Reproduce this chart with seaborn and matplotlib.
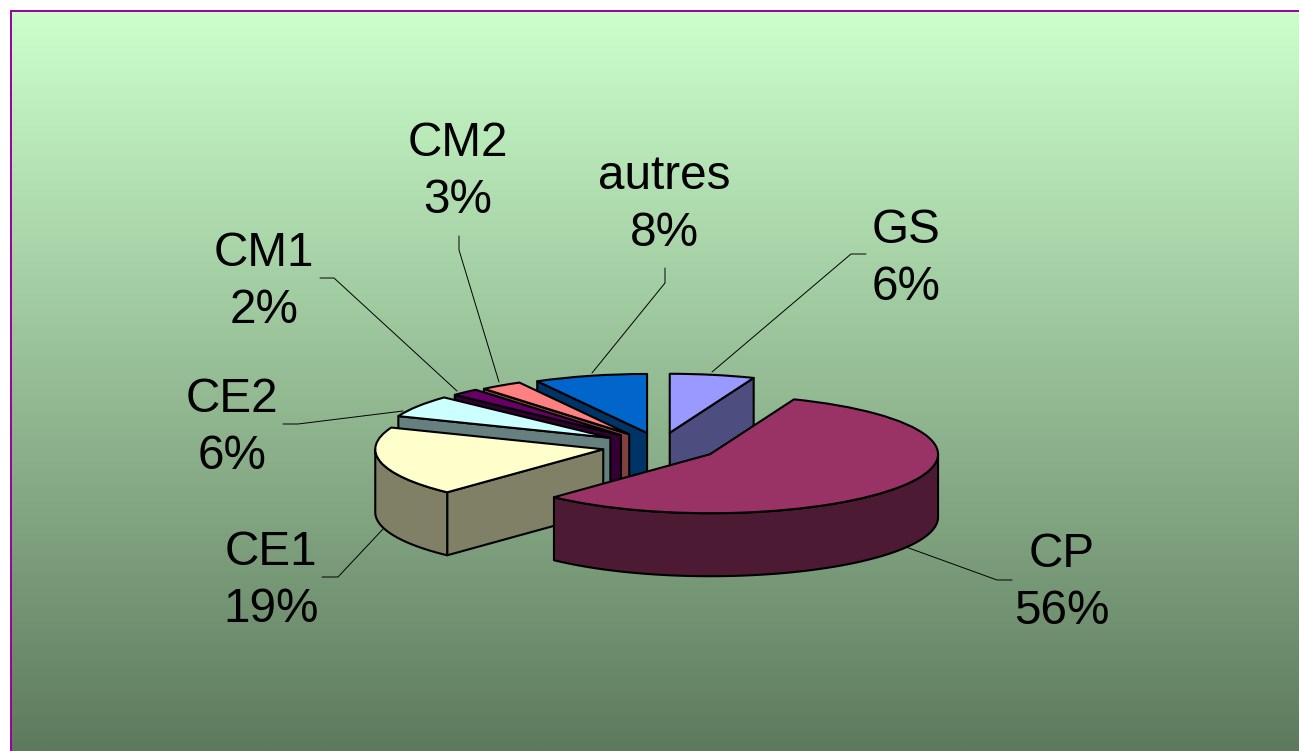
import numpy as np
import matplotlib
matplotlib.use("Agg")
import matplotlib.pyplot as plt
import seaborn as sns

# --- Data ---
CLASSES = ["GS", "CP", "CE1", "CE2", "CM1", "CM2", "autres"]
SHARES = [6, 56, 19, 6, 2, 3, 8]

# --- Style ---
TOP_COLORS = ["#9999FF", "#993366", "#FFFFCC", "#CCFFFF", "#660066", "#FF8080", "#0066CC"]
WALL_COLORS = ["#4D4D80", "#4D1A33", "#808066", "#668080", "#330033", "#804040", "#003366"]
DRAW_RANK = [5, 6, 4, 3, 2, 1, 0]  # back to front
EXPLODE = [0.228, 0.26, 0.255, 0.258, 0.25, 0.24, 0.228]
WIDTH, HEIGHT = 1299, 751
CENTER_X, CENTER_Y = 660, 446  # pixels
RADIUS_X, RADIUS_Y = 228, 59   # pixels
DEPTH = 63 / RADIUS_Y
EDGE_LW = 1.5

# label centre, then leader line, all in pixels
LABEL_POS = [(906, 259), (1062, 583), (271, 581), (232, 428), (264, 282), (458, 172), (664, 205)]
LEADERS = [
    [(712, 372), (851, 254), (866, 254)],
    [(906, 547), (997, 580), (1012, 580)],
    [(384, 528), (338, 577), (322, 577)],
    [(403, 411), (298, 424), (283, 424)],
    [(457, 391), (334, 278), (320, 278)],
    [(499, 382), (459, 250), (459, 236)],
    [(592, 373), (665, 283), (665, 268)],
]

sns.set_theme(style="white")
plt.rcParams["font.family"] = ["Liberation Sans", "DejaVu Sans"]

fig = plt.figure(figsize=(WIDTH / 100, HEIGHT / 100), dpi=100, facecolor="white")

# Background: vertical gradient and purple frame, in pixel coordinates
ax_bg = fig.add_axes([0, 0, 1, 1])
gradient = sns.blend_palette(["#CCFFCC", "#5E7A5E"], n_colors=256, as_cmap=True)
ax_bg.imshow(np.linspace(0, 1, 256).reshape(-1, 1), cmap=gradient, aspect="auto",
             extent=(11, WIDTH, HEIGHT, 11), zorder=0)
ax_bg.plot([11, 11, WIDTH], [HEIGHT, 11, 11], color="#990099", lw=1.4, zorder=1,
           solid_joinstyle="miter")
ax_bg.set_xlim(0, WIDTH)
ax_bg.set_ylim(HEIGHT, 0)
ax_bg.axis("off")

for name, share, pos, leader in zip(CLASSES, SHARES, LABEL_POS, LEADERS):
    xs, ys = zip(*leader)
    ax_bg.plot(xs, ys, color="black", lw=0.7, zorder=2)
    ax_bg.text(pos[0], pos[1], f"{name}\n{share}%", ha="center", va="center",
               fontsize=34.3, color="black", linespacing=1.34, zorder=3)

# Pie: squashed through the axes limits, radius 1 is RADIUS_X / RADIUS_Y pixels
ax = fig.add_axes([0, 0, 1, 1])
wedges, _ = ax.pie(SHARES, explode=EXPLODE, startangle=90, counterclock=False,
                   colors=TOP_COLORS, wedgeprops={"edgecolor": "black", "linewidth": EDGE_LW})
ax.set_aspect("auto")
ax.set_xlim(-CENTER_X / RADIUS_X, (WIDTH - CENTER_X) / RADIUS_X)
ax.set_ylim((CENTER_Y - HEIGHT) / RADIUS_Y, CENTER_Y / RADIUS_Y)
ax.patch.set_alpha(0)


def draw_wall(xs, ys, color, z):
    # extrude a top edge downwards
    px = np.concatenate([xs, xs[::-1]])
    py = np.concatenate([ys, ys[::-1] - DEPTH])
    ax.fill(px, py, facecolor=color, edgecolor="black", lw=EDGE_LW, zorder=z,
            joinstyle="round", clip_on=False)


for wedge, wall, rank in zip(wedges, WALL_COLORS, DRAW_RANK):
    z = 10 + rank * 10
    cx, cy = wedge.center
    t1, t2 = np.radians(wedge.theta1), np.radians(wedge.theta2)

    # flat cut faces, only the ones turned to the viewer
    if np.cos(t1) > 0:
        draw_wall(np.array([cx, cx + np.cos(t1)]), np.array([cy, cy + np.sin(t1)]), wall, z)
    if np.cos(t2) < 0:
        draw_wall(np.array([cx, cx + np.cos(t2)]), np.array([cy, cy + np.sin(t2)]), wall, z)

    # curved rim on the front half
    angles = np.linspace(t1, t2, 400)
    angles = angles[np.sin(angles) < 0]
    if len(angles) > 1:
        draw_wall(cx + np.cos(angles), cy + np.sin(angles), wall, z + 1)

    wedge.set_zorder(z + 2)
    wedge.set_joinstyle("round")

fig.savefig("out.png", dpi=100)
